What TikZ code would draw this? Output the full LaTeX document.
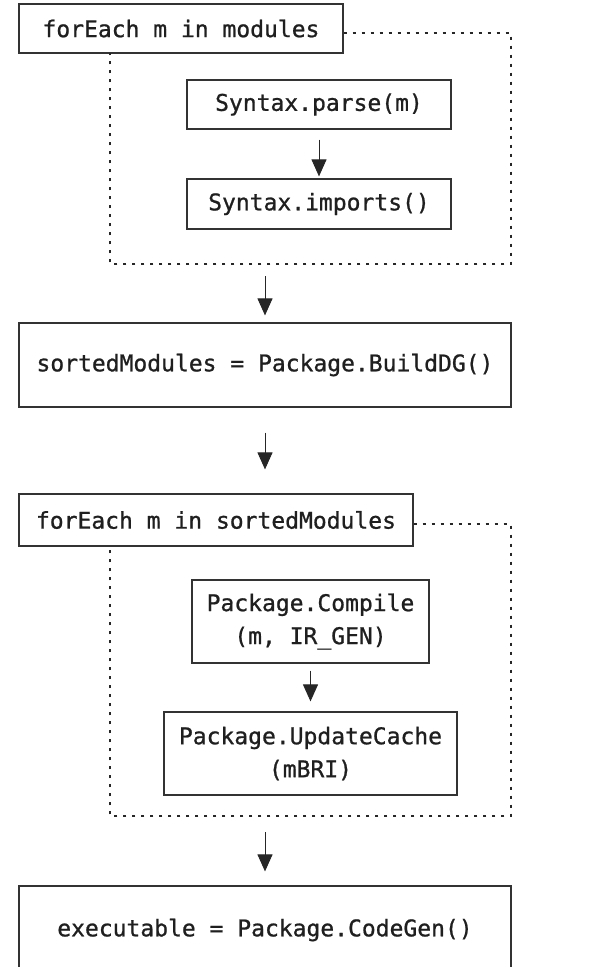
\documentclass[tikz,border=0pt]{standalone}
\usepackage{fontspec}
\newfontfamily\codefont[FakeBold=0.9]{DejaVu Sans Mono}
\usetikzlibrary{arrows.meta}

\begin{document}
\begin{tikzpicture}[x=1pt,y=-1pt,
  font=\codefont\fontsize{23}{33}\selectfont,
  box/.style={draw=black!80,line width=1.2pt,text=black!88,inner sep=0pt,align=center},
  flow/.style={draw=black!85,line width=1pt,-{Triangle[width=15pt,length=17pt]}},
  loopframe/.style={draw=black!85,line width=2pt,dash pattern=on 3pt off 6pt}]
\useasboundingbox (0,0) rectangle (597,967);
% first loop: parse every module
\node[box,minimum width=324pt,minimum height=49pt] (loopA) at (181,28.5) {forEach m in modules};
\node[box,minimum width=264pt,minimum height=49pt] (parse) at (319,104.5) {Syntax.parse(m)};
\node[box,minimum width=264pt,minimum height=50pt] (imports) at (319,204) {Syntax.imports()};
\draw[flow,shorten <=10pt,shorten >=2pt] (parse) -- (imports);
\draw[loopframe] ([yshift=-4.5pt]loopA.east) -| (511,264) coordinate (fa) -| (110,53);
% dependency graph
\node[box,minimum width=492pt,minimum height=84pt] (builddg) at (265,365) {sortedModules = Package.BuildDG()};
\draw[flow,shorten <=12pt,shorten >=7pt] (builddg.north |- fa) -- (builddg.north);
% second loop: compile in sorted order
\node[box,minimum width=394pt,minimum height=52pt] (loopB) at (216,520) {forEach m in sortedModules};
\draw[flow,shorten <=25pt,shorten >=24pt] (builddg.south) -- (builddg.south |- loopB.north);
\node[box,minimum width=237pt,minimum height=83pt] (compile) at (310.5,621.5) {Package.Compile\\(m, IR\_GEN)};
\node[box,minimum width=293pt,minimum height=83pt] (updcache) at (310.5,753.5) {Package.UpdateCache\\(mBRI)};
\draw[flow,shorten <=7pt,shorten >=10pt] (compile) -- (updcache);
\draw[loopframe] ([yshift=-4pt]loopB.east) -| (511,816) coordinate (fb) -| (110,546);
% code generation
\node[box,minimum width=492pt,minimum height=88pt] (codegen) at (265,930) {executable = Package.CodeGen()};
\draw[flow,shorten <=16pt,shorten >=14pt] (codegen.north |- fb) -- (codegen.north);
\end{tikzpicture}
\end{document}
